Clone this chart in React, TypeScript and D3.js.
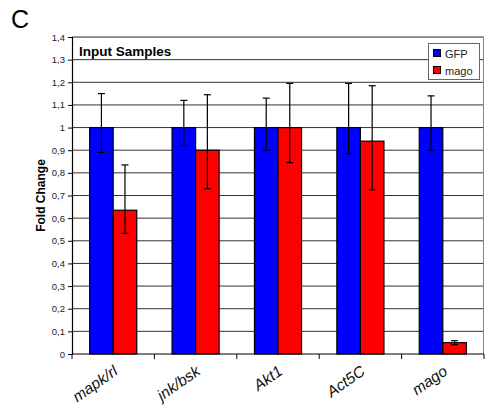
import { useEffect, useRef } from "react";
import * as d3 from "d3";

const genes = ["mapk/rl", "jnk/bsk", "Akt1", "Act5C", "mago"];
const seriesNames = ["GFP", "mago"];
const seriesColors = ["#0000ff", "#ff0000"];
const gfpValues = [1, 1, 1, 1, 1];
const gfpLow = [0.89, 0.92, 0.9, 0.885, 0.9];
const gfpHigh = [1.15, 1.12, 1.13, 1.195, 1.14];
const magoValues = [0.635, 0.9, 1.0, 0.94, 0.05];
const magoLow = [0.533, 0.73, 0.845, 0.725, 0.041];
const magoHigh = [0.835, 1.145, 1.195, 1.185, 0.059];
const yTicks = [0, 0.1, 0.2, 0.3, 0.4, 0.5, 0.6, 0.7, 0.8, 0.9, 1, 1.1, 1.2, 1.3, 1.4];

export default function App() {
  const ref = useRef<SVGSVGElement>(null);
  useEffect(() => {
    if (!ref.current) return;
    const svg = d3.select(ref.current);
    svg.selectAll("*").remove();
    const left = 72, right = 484, top = 37, bottom = 354;
    const font = "Arial, Liberation Sans, sans-serif";

    const x = d3.scaleBand<string>().domain(genes).range([left, right]);
    const xs = d3.scaleBand<string>().domain(seriesNames).range([0, x.bandwidth()]).paddingInner(0).paddingOuter(0.75);
    const y = d3.scaleLinear().domain([0, 1.4]).range([bottom, top]);

    // gridlines
    svg.append("g")
      .selectAll("line")
      .data(yTicks.slice(1))
      .join("line")
      .attr("x1", left).attr("x2", right)
      .attr("y1", (d) => y(d)).attr("y2", (d) => y(d))
      .attr("stroke", "#333").attr("stroke-width", 1);
    // frame top/right
    svg.append("path")
      .attr("d", `M${left},${top + 0.5}H${right - 0.5}V${bottom}`)
      .attr("fill", "none").attr("stroke", "#888").attr("stroke-width", 1);

    const rows = genes.map((g, i) => [
      { gene: g, s: "GFP", v: gfpValues[i], lo: gfpLow[i], hi: gfpHigh[i], c: seriesColors[0] },
      { gene: g, s: "mago", v: magoValues[i], lo: magoLow[i], hi: magoHigh[i], c: seriesColors[1] },
    ]).flat();

    svg.append("g")
      .selectAll("rect")
      .data(rows)
      .join("rect")
      .attr("x", (d) => x(d.gene)! + xs(d.s)!)
      .attr("y", (d) => y(d.v))
      .attr("width", xs.bandwidth())
      .attr("height", (d) => bottom - y(d.v))
      .attr("fill", (d) => d.c)
      .attr("stroke", "#000").attr("stroke-width", 1.2);

    const eb = svg.append("g").attr("stroke", "#000").attr("stroke-width", 1.2);
    rows.forEach((d) => {
      const cx = x(d.gene)! + xs(d.s)! + xs.bandwidth() / 2;
      eb.append("line").attr("x1", cx).attr("x2", cx).attr("y1", y(d.lo)).attr("y2", y(d.hi));
      eb.append("line").attr("x1", cx - 3.5).attr("x2", cx + 3.5).attr("y1", y(d.lo)).attr("y2", y(d.lo));
      eb.append("line").attr("x1", cx - 3.5).attr("x2", cx + 3.5).attr("y1", y(d.hi)).attr("y2", y(d.hi));
    });

    // y axis
    svg.append("g")
      .attr("transform", `translate(${left},0)`)
      .call(d3.axisLeft(y).tickValues(yTicks).tickSize(4).tickPadding(3)
        .tickFormat((d) => String(+(+d).toFixed(1)).replace(".", ",")))
      .call((g) => g.select(".domain").attr("stroke", "#000").attr("stroke-width", 1.2))
      .call((g) => g.selectAll("line").attr("stroke", "#000"))
      .call((g) => g.selectAll("text").attr("font-family", font).attr("font-size", 9.5).attr("fill", "#222"));

    // x axis
    const xb = svg.append("g").attr("transform", `translate(0,${bottom})`);
    xb.append("line").attr("x1", left).attr("x2", right).attr("stroke", "#000").attr("stroke-width", 1.2);
    xb.selectAll("line.tk")
      .data([...genes.map((g) => x(g)!), right])
      .join("line")
      .attr("class", "tk")
      .attr("x1", (d) => d).attr("x2", (d) => d).attr("y1", 0).attr("y2", 5)
      .attr("stroke", "#000");
    xb.selectAll("text")
      .data(genes)
      .join("text")
      .attr("transform", (g) => `translate(${x(g)! + x.bandwidth() / 2 - 1},${10}) rotate(-35)`)
      .attr("text-anchor", "end")
      .attr("dy", "0.75em")
      .attr("font-family", font)
      .attr("font-style", "italic")
      .attr("font-size", 15.5)
      .attr("fill", "#111")
      .text((g) => g);

    // titles
    svg.append("text")
      .attr("x", 79).attr("y", 55.5)
      .attr("font-family", font)
      .attr("font-weight", "bold").attr("font-size", 13.5)
      .text("Input Samples");
    svg.append("text")
      .attr("transform", `translate(45,${(top + bottom) / 2}) rotate(-90)`)
      .attr("text-anchor", "middle")
      .attr("font-family", font)
      .attr("font-weight", "bold").attr("font-size", 12)
      .text("Fold Change");
    svg.append("text")
      .attr("x", 11).attr("y", 28)
      .attr("font-family", font)
      .attr("font-size", 25)
      .text("C");

    // legend
    const lg = svg.append("g").attr("transform", "translate(428,43)");
    lg.append("rect").attr("x", 0.5).attr("y", 0.5).attr("width", 51).attr("height", 36)
      .attr("fill", "#fff").attr("stroke", "#666");
    seriesNames.forEach((s, i) => {
      lg.append("rect").attr("x", 5.5).attr("y", 6.5 + i * 17).attr("width", 7).attr("height", 7)
        .attr("fill", seriesColors[i]).attr("stroke", "#000");
      lg.append("text").attr("x", 17).attr("y", 14.5 + i * 17)
        .attr("font-family", font).attr("font-size", 11)
        .attr("fill", "#222")
        .text(s);
    });
  }, []);
  return <svg ref={ref} width={485} height={412} style={{ position: "absolute", left: 0, top: 0 }} />;
}
